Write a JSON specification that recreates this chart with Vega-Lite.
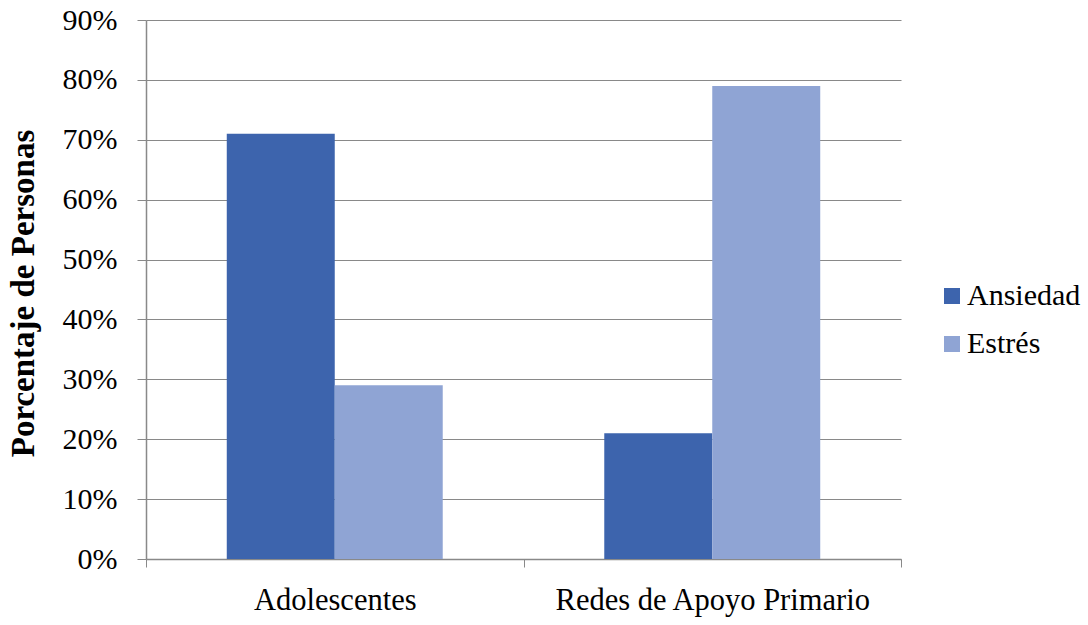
{
  "$schema": "https://vega.github.io/schema/vega-lite/v6.json",
  "width": 755,
  "height": 539,
  "autosize": {"type": "none"},
  "padding": {"left": 146, "top": 20, "right": 187, "bottom": 66},
  "background": "white",
  "config": {
    "font": "Liberation Serif",
    "view": {"stroke": null}
  },
  "data": {
    "values": [
      {"grupo": "Adolescentes", "serie": "Ansiedad", "valor": 0.71},
      {"grupo": "Adolescentes", "serie": "Estrés", "valor": 0.29},
      {"grupo": "Redes de Apoyo Primario", "serie": "Ansiedad", "valor": 0.21},
      {"grupo": "Redes de Apoyo Primario", "serie": "Estrés", "valor": 0.79}
    ]
  },
  "mark": {"type": "bar"},
  "encoding": {
    "x": {
      "field": "grupo",
      "type": "nominal",
      "sort": null,
      "scale": {"paddingInner": 0, "paddingOuter": 0},
      "axis": {
        "title": null,
        "labelAngle": 0,
        "labelFontSize": 30.5,
        "labelColor": "black",
        "labelPadding": 18,
        "labelLimit": 0,
        "tickBand": "extent",
        "tickSize": 8,
        "tickColor": "#898989",
        "domainColor": "#898989",
        "domainWidth": 1.5
      }
    },
    "xOffset": {
      "field": "serie",
      "type": "nominal",
      "scale": {"paddingInner": 0, "paddingOuter": 0.748}
    },
    "y": {
      "field": "valor",
      "type": "quantitative",
      "scale": {"domain": [0, 0.9], "nice": false},
      "axis": {
        "title": "Porcentaje de Personas",
        "titleFontSize": 33,
        "titleFontWeight": "bold",
        "titleColor": "black",
        "titlePadding": 22,
        "titleY": 273,
        "values": [0, 0.1, 0.2, 0.3, 0.4, 0.5, 0.6, 0.7, 0.8, 0.9],
        "format": ".0%",
        "labelFontSize": 30,
        "labelColor": "black",
        "labelPadding": 20,
        "tickSize": 9,
        "tickColor": "#898989",
        "domainColor": "#898989",
        "domainWidth": 1.5,
        "grid": true,
        "gridColor": "#898989",
        "gridWidth": 1
      }
    },
    "color": {
      "field": "serie",
      "type": "nominal",
      "scale": {"domain": ["Ansiedad", "Estrés"], "range": ["#3D64AD", "#8FA4D4"]},
      "legend": {
        "title": null,
        "orient": "none",
        "legendX": 791,
        "legendY": 261,
        "padding": 0,
        "symbolType": "square",
        "symbolSize": 256,
        "symbolStrokeWidth": 0,
        "labelFontSize": 30,
        "labelLimit": 0,
        "labelColor": "black",
        "labelOffset": 0,
        "rowPadding": 18
      }
    }
  }
}
